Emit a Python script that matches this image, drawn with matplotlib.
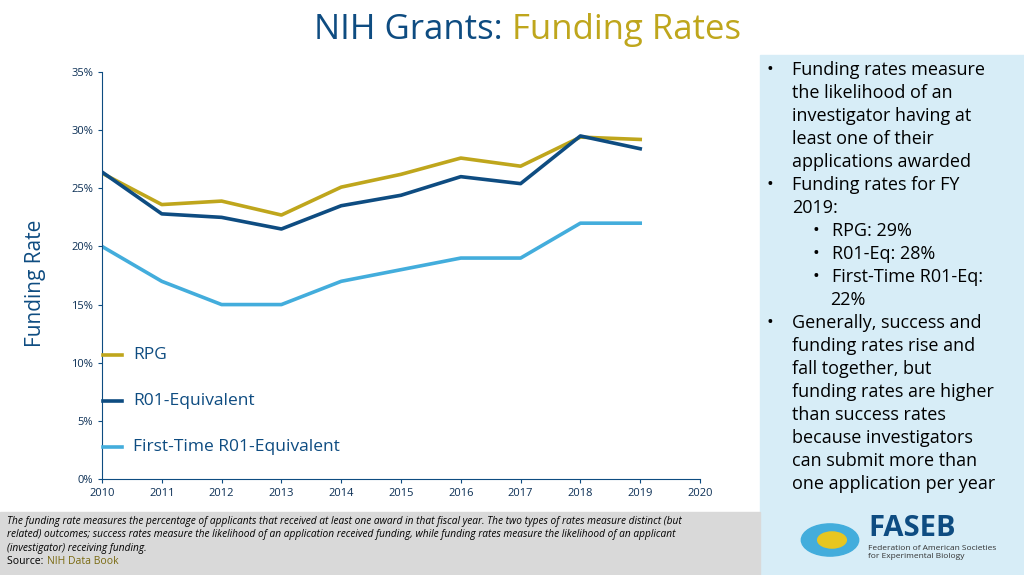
import matplotlib
matplotlib.use("Agg")
import matplotlib.pyplot as plt
from matplotlib.patches import Rectangle
from matplotlib.lines import Line2D

plt.rcParams["font.family"] = ["Open Sans", "DejaVu Sans"]

NAVY, GOLD, SKY = "#0E4C81", "#BFA61C", "#43ADDC"

years = list(range(2010, 2020))
rpg = [26.3, 23.6, 23.9, 22.7, 25.1, 26.2, 27.6, 26.9, 29.4, 29.2]
r01 = [26.4, 22.8, 22.5, 21.5, 23.5, 24.4, 26.0, 25.4, 29.5, 28.4]
first = [20.0, 17.0, 15.0, 15.0, 17.0, 18.0, 19.0, 19.0, 22.0, 22.0]
series = [("RPG", rpg, GOLD), ("R01-Equivalent", r01, NAVY),
          ("First-Time R01-Equivalent", first, SKY)]

fig = plt.figure(figsize=(10.24, 5.75), dpi=100)
W, H = 1024, 575

def fx(px):
    return px / W

def fy(py):
    return 1 - py / H

# background panels
fig.patches.append(Rectangle((fx(760), 0), fx(264), fy(55), transform=fig.transFigure,
                             color="#D7EDF7", zorder=0))
fig.patches.append(Rectangle((0, 0), fx(760), fy(512), transform=fig.transFigure,
                             color="#D9D9D9", zorder=0))

fig.text(0.5, fy(30), "NIH Grants: ", color=NAVY, fontsize=25, ha="right", va="center")
fig.text(0.5, fy(30), "Funding Rates", color=GOLD, fontsize=25, ha="left", va="center")

ax = fig.add_axes([fx(102), fy(479), fx(700 - 102), fy(72) - fy(479)])
for name, vals, c in series:
    ax.plot(years, vals, color=c, lw=2.6)
ax.set_xlim(2010, 2020)
ax.set_ylim(0, 35)
ax.set_xticks(range(2010, 2021))
ax.set_yticks(range(0, 36, 5))
ax.set_yticklabels([f"{v}%" for v in range(0, 36, 5)])
ax.tick_params(labelsize=8, colors="#0E4C81", length=3)
for lab in ax.get_xticklabels() + ax.get_yticklabels():
    lab.set_color("#0B2F55")
ax.spines[["top", "right"]].set_visible(False)
for s in ("left", "bottom"):
    ax.spines[s].set_color(NAVY)
fig.text(fx(36), fy(283), "Funding Rate", color=NAVY, fontsize=15, rotation=90,
         ha="center", va="center")

# manual legend
for (name, vals, c), py in zip(series, [355, 401, 447]):
    fig.add_artist(Line2D([fx(103), fx(122)], [fy(py), fy(py)], color=c, lw=2.6,
                          transform=fig.transFigure))
    fig.text(fx(133), fy(py), name, color=NAVY, fontsize=12.5, va="center")

bullets = [
    (0, ["Funding rates measure", "the likelihood of an", "investigator having at",
         "least one of their", "applications awarded"]),
    (0, ["Funding rates for FY", "2019:"]),
    (1, ["RPG: 29%"]),
    (1, ["R01-Eq: 28%"]),
    (1, ["First-Time R01-Eq:", "22%"]),
    (0, ["Generally, success and", "funding rates rise and", "fall together, but",
         "funding rates are higher", "than success rates", "because investigators",
         "can submit more than", "one application per year"]),
]
py = 70
for lvl, lines in bullets:
    bx = 766 if lvl == 0 else 813
    tx = 792 if lvl == 0 else 832
    fig.text(fx(bx), fy(py), "\u2022", fontsize=13, color="black", va="center")
    for i, ln in enumerate(lines):
        x = tx if i == 0 or lvl == 0 else tx - 2
        fig.text(fx(x), fy(py), ln, fontsize=13, color="black", va="center")
        py += 23

note = ("The funding rate measures the percentage of applicants that received at least one award in that fiscal year. "
        "The two types of rates measure distinct (but\nrelated) outcomes; success rates measure the likelihood of an "
        "application received funding, while funding rates measure the likelihood of an applicant\n(investigator) "
        "receiving funding.")
fig.text(fx(7), fy(516), note, fontsize=7.3, style="italic", va="top", linespacing=1.3)
fig.text(fx(7), fy(562), "Source: ", fontsize=7.5, va="center")
fig.text(fx(47), fy(562), "NIH Data Book", fontsize=7.5, va="center", color="#7A6A10")

fig.text(fx(868), fy(528), "FASEB", fontsize=21, weight="bold", color=NAVY, va="center")
fig.text(fx(868), fy(553), "Federation of American Societies\nfor Experimental Biology",
         fontsize=6, color="#333333", va="center", linespacing=1.2)
fig.patches.append(plt.Circle((fx(830), fy(540)), 0.028, transform=fig.transFigure,
                              color=SKY, zorder=1))
fig.patches.append(plt.Circle((fx(832), fy(540)), 0.014, transform=fig.transFigure,
                              color="#E8C620", zorder=2))

fig.savefig("out.png", dpi=100)
